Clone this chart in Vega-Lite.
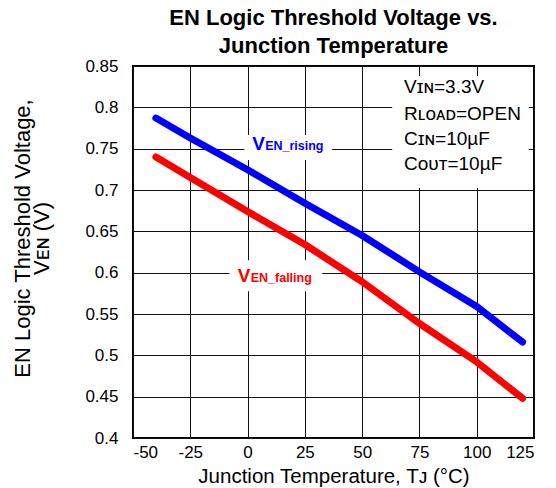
{
  "$schema": "https://vega.github.io/schema/vega-lite/v6.json",
  "width": 401,
  "height": 372,
  "autosize": {"type": "none"},
  "padding": {"left": 133, "top": 66, "right": 22, "bottom": 50},
  "background": "white",
  "title": {
    "text": ["EN Logic Threshold Voltage vs.", "Junction Temperature"],
    "font": "Liberation Sans",
    "fontSize": 22,
    "fontWeight": "bold",
    "lineHeight": 28,
    "anchor": "middle",
    "offset": -1,
    "color": "black"
  },
  "config": {
    "view": {"stroke": "black", "strokeWidth": 2},
    "axis": {
      "grid": true,
      "gridColor": "#111111",
      "gridWidth": 1,
      "domain": false,
      "ticks": false,
      "tickSize": 0,
      "labelFont": "Liberation Sans",
      "labelFontSize": 17,
      "labelColor": "black",
      "titleFont": "Liberation Sans",
      "titleFontSize": 20.5,
      "titleFontWeight": "normal",
      "titleColor": "black"
    },
    "text": {"font": "Liberation Sans"}
  },
  "datasets": {
    "curves": [
      {"series": "rising", "T": -40, "V": 0.787},
      {"series": "rising", "T": -25, "V": 0.763},
      {"series": "rising", "T": 0, "V": 0.7245},
      {"series": "rising", "T": 25, "V": 0.684},
      {"series": "rising", "T": 50, "V": 0.645},
      {"series": "rising", "T": 75, "V": 0.601},
      {"series": "rising", "T": 100, "V": 0.559},
      {"series": "rising", "T": 120, "V": 0.516},
      {"series": "falling", "T": -40, "V": 0.74},
      {"series": "falling", "T": -25, "V": 0.715},
      {"series": "falling", "T": 0, "V": 0.674},
      {"series": "falling", "T": 25, "V": 0.634},
      {"series": "falling", "T": 50, "V": 0.589},
      {"series": "falling", "T": 75, "V": 0.5385},
      {"series": "falling", "T": 100, "V": 0.492},
      {"series": "falling", "T": 120, "V": 0.448}
    ],
    "boxes": [
      {"T": 63.1, "T2": 122.7, "V": 0.8379, "V2": 0.7023},
      {"T": -1.4, "T2": 36.9, "V": 0.7665, "V2": 0.7362},
      {"T": -7.9, "T2": 32.6, "V": 0.615, "V2": 0.5776}
    ],
    "labels": [
      {"series": "rising", "T": 2.0, "V": 0.7483, "big": "V", "sub": "EN_rising"},
      {"series": "falling", "T": -4.3, "V": 0.5889, "big": "V", "sub": "EN_falling"}
    ],
    "conditions": [
      {"T": 68.3, "V": 0.817, "text": "Vɪɴ=3.3V"},
      {"T": 68.3, "V": 0.7846, "text": "Rʟᴏᴀᴅ=OPEN"},
      {"T": 68.3, "V": 0.7544, "text": "Cɪɴ=10µF"},
      {"T": 68.3, "V": 0.7241, "text": "Cᴏᴜᴛ=10µF"}
    ]
  },
  "encoding": {
    "x": {
      "field": "T",
      "type": "quantitative",
      "scale": {"domain": [-50, 125], "nice": false, "zero": false},
      "axis": {
        "values": [-50, -25, 0, 25, 50, 75, 100, 125],
        "labelExpr": "datum.value + ''",
        "labelPadding": 6,
        "title": "Junction Temperature, Tᴊ (°C)",
        "titlePadding": 6
      }
    },
    "y": {
      "field": "V",
      "type": "quantitative",
      "scale": {"domain": [0.4, 0.85], "nice": false, "zero": false},
      "axis": {
        "values": [0.4, 0.45, 0.5, 0.55, 0.6, 0.65, 0.7, 0.75, 0.8, 0.85],
        "labelExpr": "datum.value + ''",
        "labelPadding": 15,
        "title": ["EN Logic Threshold Voltage,", "Vᴇɴ (V)"],
        "titleFontSize": 22,
        "titleLineHeight": 19,
        "titleY": 172,
        "titlePadding": 31
      }
    }
  },
  "layer": [
    {
      "data": {"name": "boxes"},
      "mark": {"type": "rect", "fill": "white", "stroke": null},
      "encoding": {
        "x2": {"field": "T2"},
        "y2": {"field": "V2"}
      }
    },
    {
      "data": {"name": "curves"},
      "mark": {"type": "line", "strokeWidth": 7, "strokeCap": "round", "strokeJoin": "round"},
      "encoding": {
        "color": {
          "field": "series",
          "type": "nominal",
          "scale": {"domain": ["rising", "falling"], "range": ["#0000ff", "#ff0000"]},
          "legend": null
        }
      }
    },
    {
      "data": {"name": "labels"},
      "mark": {"type": "text", "fontSize": 19, "fontWeight": "bold", "align": "left", "baseline": "alphabetic"},
      "encoding": {
        "text": {"field": "big"},
        "color": {"field": "series", "type": "nominal", "legend": null}
      }
    },
    {
      "data": {"name": "labels"},
      "mark": {"type": "text", "fontSize": 12.5, "fontWeight": "bold", "align": "left", "baseline": "alphabetic", "dx": 13},
      "encoding": {
        "text": {"field": "sub"},
        "color": {"field": "series", "type": "nominal", "legend": null}
      }
    },
    {
      "data": {"name": "conditions"},
      "mark": {"type": "text", "fontSize": 19, "align": "left", "baseline": "alphabetic", "color": "black"},
      "encoding": {
        "text": {"field": "text"}
      }
    }
  ]
}
